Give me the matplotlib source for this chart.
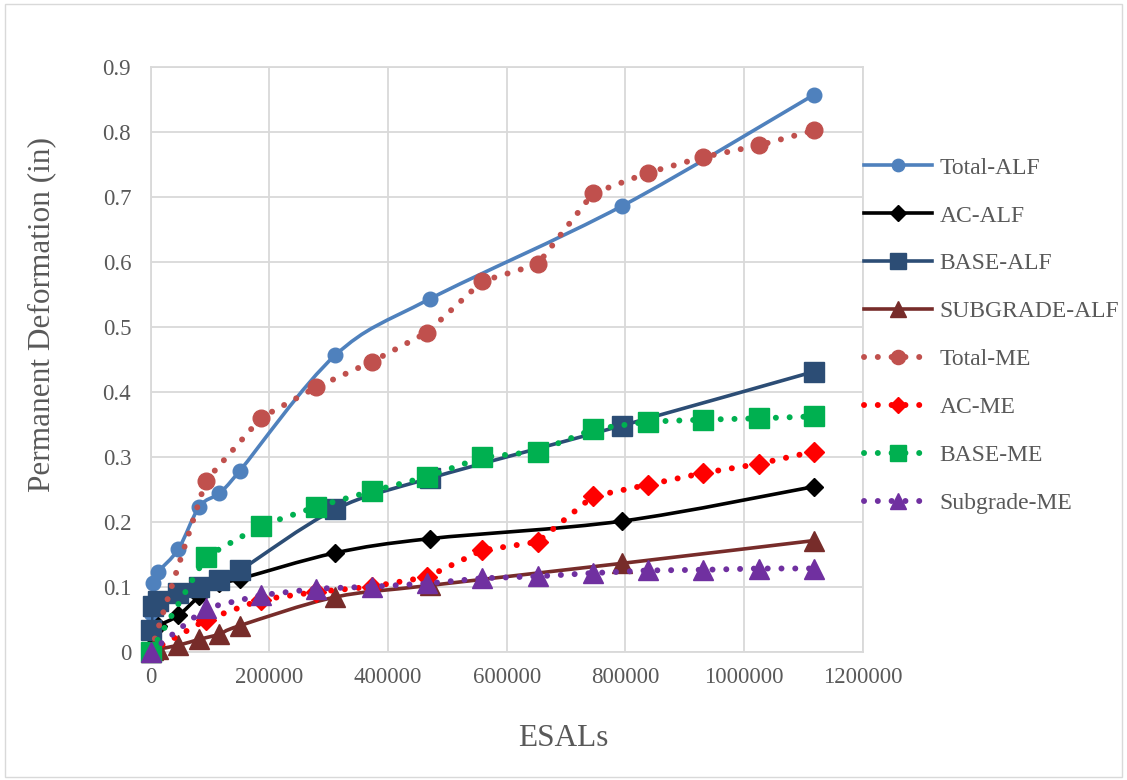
import numpy as np
import matplotlib
matplotlib.use("Agg")
import matplotlib.pyplot as plt
from matplotlib.path import Path
from matplotlib.patches import PathPatch, Rectangle
from matplotlib.lines import Line2D

# ---- data -------------------------------------------------------------
alf_esals = [0, 4500, 13000, 47000, 82000, 116000, 150000,
             311000, 471000, 795000, 1118000]
total_alf = [0.060, 0.105, 0.123, 0.158, 0.223, 0.244, 0.278,
             0.456, 0.543, 0.686, 0.857]
ac_alf = [0.025, 0.033, 0.040, 0.056, 0.085, 0.105, 0.112,
          0.152, 0.174, 0.201, 0.254]
base_alf = [0.033, 0.070, 0.078, 0.090, 0.100, 0.111, 0.125,
            0.219, 0.267, 0.348, 0.431]
subgrade_alf = [0.000, 0.002, 0.004, 0.010, 0.019, 0.027, 0.040,
                0.084, 0.102, 0.136, 0.171]

me_esals = [0, 93150, 186300, 279450, 372600, 465750, 558900,
            652050, 745200, 838350, 931500, 1024650, 1117800]
total_me = [0.000, 0.263, 0.360, 0.407, 0.446, 0.491, 0.570,
            0.596, 0.705, 0.737, 0.761, 0.779, 0.802]
ac_me = [0.000, 0.049, 0.080, 0.092, 0.100, 0.115, 0.156,
         0.169, 0.239, 0.257, 0.275, 0.289, 0.308]
base_me = [0.000, 0.146, 0.194, 0.223, 0.247, 0.269, 0.299,
           0.308, 0.342, 0.354, 0.357, 0.359, 0.362]
subgrade_me = [0.000, 0.067, 0.087, 0.097, 0.100, 0.105, 0.113,
               0.116, 0.121, 0.125, 0.126, 0.128, 0.128]

x_ticks = [0, 200000, 400000, 600000, 800000, 1000000, 1200000]
y_ticks = [0, 0.1, 0.2, 0.3, 0.4, 0.5, 0.6, 0.7, 0.8, 0.9]

# ---- style ------------------------------------------------------------
plt.rcParams['font.family'] = ['Liberation Serif', 'DejaVu Serif']
TEXT = '#595959'
GRID = '#D9D9D9'
W, H = 1127, 780

fig = plt.figure(figsize=(W / 100, H / 100), dpi=100)
ax = fig.add_axes([150.6 / W, 1 - 651.7 / H, (862.8 - 150.6) / W, (651.7 - 66.7) / H])


def smooth_path(x, y):
    """Cubic Bezier path through the points (Catmull-Rom style smoothing)."""
    pts = np.column_stack([x, y]).astype(float)
    n = len(pts)
    verts = [pts[0]]
    codes = [Path.MOVETO]
    for i in range(n - 1):
        p0 = pts[i - 1] if i > 0 else pts[i]
        p1 = pts[i]
        p2 = pts[i + 1]
        p3 = pts[i + 2] if i + 2 < n else pts[i + 1]
        verts += [p1 + (p2 - p0) / 6, p2 - (p3 - p1) / 6, p2]
        codes += [Path.CURVE4] * 3
    return Path(verts, codes)


DOT = (0, (0.01, 2.3))
series = [
    # label, x, y, color, marker, ms, smooth
    ('Total-ALF', alf_esals, total_alf, '#4F81BD', 'o', 10.5, True),
    ('AC-ALF', alf_esals, ac_alf, '#000000', 'D', 9.5, True),
    ('BASE-ALF', alf_esals, base_alf, '#2C4D75', 's', 14, True),
    ('SUBGRADE-ALF', alf_esals, subgrade_alf, '#772C2A', '^', 14, True),
    ('Total-ME', me_esals, total_me, '#C0504D', 'o', 12, False),
    ('AC-ME', me_esals, ac_me, '#FF0000', 'D', 10, False),
    ('BASE-ME', me_esals, base_me, '#00B050', 's', 14, False),
    ('Subgrade-ME', me_esals, subgrade_me, '#7030A0', '^', 14, False),
]

handles = []
for k, (label, xs, ys, color, marker, ms, smooth) in enumerate(series):
    z = 3 + k
    if smooth:
        patch = PathPatch(smooth_path(xs, ys), fill=False, edgecolor=color,
                          lw=2.6, capstyle='round', joinstyle='round', zorder=z)
        ax.add_patch(patch)
        handle = Line2D([], [], color=color, lw=2.6, marker=marker, ms=ms * 0.85,
                        mec=color, mfc=color)
    else:
        ax.plot(xs, ys, color=color, lw=4.3, ls=DOT, dash_capstyle='round',
                zorder=z, clip_on=False)
        handle = Line2D([], [], color=color, lw=4.3, ls=DOT, dash_capstyle='round',
                        marker=marker, ms=ms * 0.85, mec=color, mfc=color)
    ax.plot(xs, ys, ls='none', marker=marker, ms=ms, color=color, mec=color,
            mfc=color, zorder=z + 0.5, clip_on=False)
    handles.append(handle)

ax.set_xlim(0, 1200000)
ax.set_ylim(0, 0.9)
ax.set_xticks(x_ticks)
ax.set_xticklabels([str(v) for v in x_ticks])
ax.set_yticks(y_ticks)
ax.set_yticklabels(['0'] + [f'{v:.1f}' for v in y_ticks[1:]])
ax.tick_params(length=0, labelsize=16.5, labelcolor=TEXT)
ax.tick_params(axis='y', pad=14)
ax.tick_params(axis='x', pad=11)
ax.grid(True, color=GRID, lw=1.3, zorder=0)
ax.set_axisbelow(True)
for s in ax.spines.values():
    s.set_color(GRID)
    s.set_linewidth(1.3)

fig.text(563 / W, 1 - 738 / H, 'ESALs', fontsize=22.5, color=TEXT,
         ha='center', va='center')
fig.text(42 / W, 1 - 315 / H, 'Permanent Deformation (in)', fontsize=22.5,
         color=TEXT, ha='center', va='center', rotation=90)

fig.legend(handles=handles, labels=[s[0] for s in series],
           loc='upper left', bbox_to_anchor=(864 / W, 1 - 157 / H),
           frameon=False, fontsize=17, labelcolor=TEXT, handlelength=2.9,
           handletextpad=0.3, labelspacing=1.12, borderpad=0, borderaxespad=0,
           numpoints=1)

fig.patches.append(Rectangle((5 / W, 3 / H), (1122 - 5) / W, (776 - 3) / H,
                             transform=fig.transFigure, fill=False,
                             edgecolor=GRID, lw=1.0))

fig.savefig('out.png', dpi=100)
